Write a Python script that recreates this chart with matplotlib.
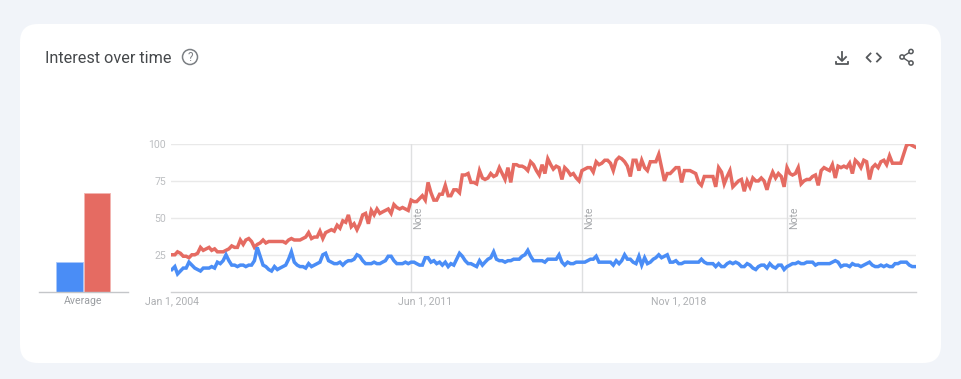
import numpy as np
import pandas as pd
import matplotlib
matplotlib.use("Agg")
import matplotlib.pyplot as plt
from matplotlib.patches import FancyBboxPatch, Circle

# monthly values, one row per year, Jan 2004 to Oct 2025
red_values = [
    25, 25, 27, 26, 24, 24, 23, 25, 25, 26, 30, 28,
    29, 30, 28, 29, 27, 27, 27, 28, 29, 31, 30, 30,
    35, 32, 35, 36, 34, 30, 32, 33, 35, 33, 34, 34,
    34, 34, 34, 34, 33, 35, 36, 35, 35, 35, 36, 37,
    40, 36, 37, 37, 41, 36, 40, 41, 42, 41, 45, 43,
    48, 47, 52, 44, 46, 42, 46, 52, 53, 46, 55, 52,
    56, 53, 54, 55, 56, 53, 59, 57, 56, 57, 56, 55,
    62, 61, 61, 63, 65, 62, 74, 67, 62, 62, 66, 66,
    72, 65, 65, 69, 69, 67, 79, 79, 80, 74, 74, 73,
    82, 77, 76, 77, 80, 78, 79, 84, 80, 76, 84, 74,
    86, 86, 85, 85, 84, 82, 88, 86, 82, 79, 86, 80,
    90, 86, 83, 85, 84, 76, 84, 82, 79, 80, 77, 75,
    82, 83, 84, 84, 81, 88, 86, 87, 89, 89, 87, 82,
    89, 91, 90, 88, 85, 78, 89, 89, 82, 89, 84, 82,
    88, 88, 88, 93, 84, 75, 80, 80, 82, 84, 84, 74,
    82, 82, 82, 81, 80, 74, 72, 78, 78, 78, 78, 71,
    84, 81, 73, 78, 82, 71, 73, 75, 76, 68, 75, 71,
    77, 75, 75, 77, 75, 69, 76, 81, 77, 80, 78, 71,
    84, 80, 79, 80, 84, 73, 75, 76, 76, 78, 79, 72,
    82, 84, 83, 82, 86, 77, 85, 84, 85, 84, 87, 80,
    89, 87, 84, 89, 88, 76, 84, 86, 84, 88, 89, 86,
    92, 87, 87, 87, 87, 93, 99, 100, 99, 98,
]
blue_values = [
    15, 17, 12, 14, 16, 16, 20, 18, 16, 15, 14, 16,
    16, 16, 17, 16, 20, 19, 21, 25, 21, 18, 18, 17,
    18, 18, 17, 18, 18, 21, 30, 24, 18, 17, 15, 14,
    17, 15, 16, 17, 18, 22, 27, 20, 18, 17, 17, 16,
    19, 17, 18, 19, 20, 25, 26, 21, 20, 19, 19, 20,
    18, 20, 21, 21, 22, 25, 24, 21, 19, 19, 19, 20,
    19, 19, 20, 21, 24, 24, 21, 19, 19, 19, 20, 19,
    20, 20, 19, 18, 18, 23, 23, 20, 21, 19, 20, 18,
    20, 17, 19, 18, 22, 26, 24, 21, 19, 19, 18, 17,
    21, 18, 20, 22, 23, 27, 22, 21, 21, 20, 21, 21,
    22, 22, 22, 24, 25, 28, 24, 21, 21, 21, 21, 20,
    22, 22, 22, 22, 25, 20, 18, 20, 19, 19, 20, 20,
    20, 20, 21, 22, 22, 24, 20, 20, 20, 20, 20, 18,
    21, 19, 21, 25, 22, 22, 20, 19, 24, 18, 23, 19,
    20, 22, 23, 25, 23, 24, 25, 20, 20, 21, 19, 19,
    20, 20, 20, 20, 20, 20, 22, 20, 19, 19, 19, 17,
    19, 17, 17, 19, 20, 19, 20, 19, 17, 17, 19, 18,
    16, 15, 17, 18, 18, 16, 19, 17, 16, 18, 18, 15,
    17, 18, 19, 19, 20, 19, 19, 20, 20, 20, 18, 19,
    19, 19, 19, 19, 20, 21, 20, 17, 18, 18, 17, 19,
    18, 18, 17, 18, 19, 20, 18, 17, 17, 18, 17, 18,
    17, 17, 19, 19, 20, 20, 20, 18, 17, 17,
]
averages = [20, 67]
avg_label = "Average"
y_ticks = [25, 50, 75, 100]
x_tick_dates = ["2004-01-01", "2011-06-01", "2018-11-01"]
x_tick_labels = ["Jan 1, 2004", "Jun 1, 2011", "Nov 1, 2018"]
note_dates = ["2011-01-01", "2016-01-01", "2022-01-01"]

BLUE = "#4a8df6"
RED = "#e56b62"
W, H = 962, 379

plt.rcParams["font.family"] = ["Roboto", "DejaVu Sans"]
fig = plt.figure(figsize=(W / 100, H / 100), dpi=100, facecolor="#f1f4f9")


def px_axes(x0, y0, x1, y1):
    # axes from pixel box, y counted from the top
    return fig.add_axes([x0 / W, 1 - y1 / H, (x1 - x0) / W, (y1 - y0) / H])


# card and icons, in pixel coordinates
bg = fig.add_axes([0, 0, 1, 1])
bg.set_xlim(0, W)
bg.set_ylim(H, 0)
bg.axis("off")
bg.add_patch(FancyBboxPatch((38, 42), 885, 303, boxstyle="round,pad=18,rounding_size=18",
                            fc="white", ec="white", linewidth=0))
bg.text(45, 58.5, "Interest over time", fontsize=11.7, color="#45484b", va="center", ha="left")

bg.add_patch(Circle((190, 57), 7.5, fc="none", ec="#7b7f83", lw=1.1))
bg.text(190, 57.2, "?", fontsize=8.5, color="#7b7f83", ha="center", va="center")

ICON = "#55585b"
bg.plot([842, 842], [52, 60], color=ICON, lw=1.3)
bg.plot([838, 842, 846], [57, 61, 57], color=ICON, lw=1.3)
bg.plot([836, 836, 848, 848], [61.5, 64, 64, 61.5], color=ICON, lw=1.3)
bg.plot([870.5, 866.5, 870.5], [53.5, 57.5, 61.5], color=ICON, lw=1.3)
bg.plot([877, 881, 877], [53.5, 57.5, 61.5], color=ICON, lw=1.3)
bg.plot([911, 902, 911], [51.5, 57, 63], color=ICON, lw=1)
for cx, cy in [(911, 51.5), (902, 57), (911, 63)]:
    bg.add_patch(Circle((cx, cy), 2.1, fc="white", ec=ICON, lw=1.1, zorder=3))

# average bars
ax_bar = px_axes(39, 144, 128, 291.7)
ax_bar.patch.set_alpha(0)
ax_bar.bar([0, 1], averages, width=0.98, color=[BLUE, RED],
           edgecolor=["#a9c8fb", "#f3b5b0"], linewidth=0.6)
ax_bar.set_xlim(-1.109, 2.127)
ax_bar.set_ylim(0, 100)
ax_bar.set_yticks([])
ax_bar.set_xticks([0.5])
ax_bar.set_xticklabels([avg_label], fontsize=7.6, color="#9a9da1")
ax_bar.tick_params(axis="x", length=0, pad=3)
for s in ["top", "left", "right"]:
    ax_bar.spines[s].set_visible(False)
ax_bar.spines["bottom"].set_color("#c4c6c9")
ax_bar.spines["bottom"].set_linewidth(1)

# line chart
dates = pd.date_range("2004-01-01", periods=len(red_values), freq="MS")
ax = px_axes(171, 144, 916, 291.7)
ax.patch.set_alpha(0)
ax.set_xlim(dates[0] - pd.Timedelta(days=10), dates[-1] + pd.Timedelta(days=10))
ax.set_ylim(0, 100)
ax.set_yticks(y_ticks)
ax.set_yticklabels([str(v) for v in y_ticks], fontsize=7.6, color="#bcbec1")
ax.set_xticks(pd.to_datetime(x_tick_dates))
ax.set_xticklabels(x_tick_labels, fontsize=7.6, color="#aeb0b3")
ax.tick_params(axis="both", length=0)
ax.tick_params(axis="x", pad=3)
ax.tick_params(axis="y", pad=3.5)
ax.grid(axis="y", color="#e9e9e9", lw=1)
ax.set_axisbelow(True)
for s in ["top", "left", "right"]:
    ax.spines[s].set_visible(False)
ax.spines["bottom"].set_color("#cfd0d2")
ax.spines["bottom"].set_linewidth(1)

for d in pd.to_datetime(note_dates):
    ax.axvline(d, color="#dfe0e1", lw=1, zorder=1)
    ax.annotate("Note", (d, 50), xytext=(7, 0), textcoords="offset pixels", rotation=90,
                fontsize=7.6, color="#a6a8ab", ha="center", va="center")

ax.plot(dates, red_values, color=RED, lw=2.5, solid_joinstyle="miter", zorder=3)
ax.plot(dates, blue_values, color=BLUE, lw=2.5, solid_joinstyle="miter", zorder=4)

fig.savefig("out.png", dpi=100, facecolor=fig.get_facecolor())
